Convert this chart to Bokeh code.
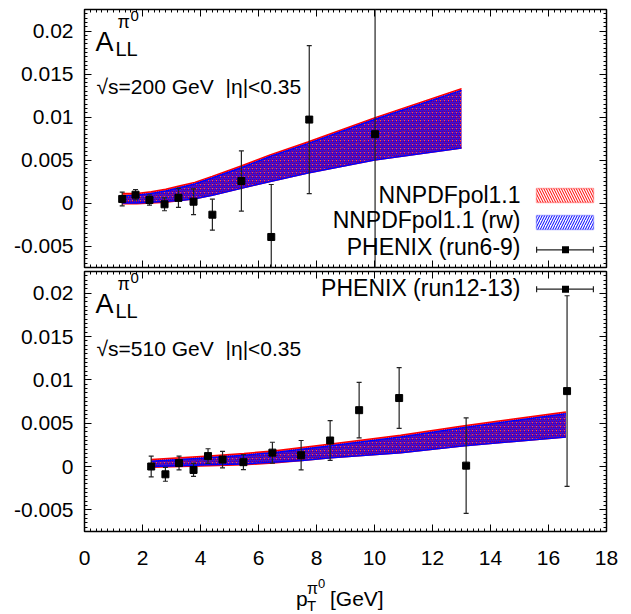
from bokeh.plotting import figure
from bokeh.models import (Range1d, LinearAxis, FixedTicker, CustomJSTickFormatter,
                          Label, BoxAnnotation, Div)
from bokeh.layouts import column
from bokeh.embed import file_html
from bokeh.resources import INLINE

FONT = "Liberation Sans"

# ---------------- data: top panel (sqrt(s)=200 GeV, PHENIX run6-9) ----------------
top_x = [1.30, 1.76, 2.24, 2.76, 3.24, 3.76, 4.41, 5.41, 6.44, 7.75, 10.02]
top_y = [0.00047, 0.00097, 0.00035, -0.00015, 0.0006, 0.00015, -0.00136, 0.00256, -0.00395, 0.0097, 0.0080]
top_err = [0.0008, 0.0006, 0.0006, 0.00075, 0.0011, 0.0015, 0.0018, 0.0035, 0.0061, 0.0086, 0.035]

top_band_x = [1.3, 1.8, 2.3, 2.8, 3.3, 3.8, 4.4, 5.4, 6.4, 7.7, 10.0, 13.0]
top_nn_up = [0.0011, 0.0011, 0.0013, 0.0016, 0.0020, 0.0024, 0.0031, 0.0043, 0.0056, 0.0071, 0.0099, 0.0133]
top_nn_lo = [-0.0001, -0.0001, 0.0000, 0.0001, 0.0003, 0.0005, 0.0009, 0.0017, 0.0025, 0.0035, 0.0050, 0.0064]
top_rw_up = [0.0008, 0.0009, 0.0011, 0.0014, 0.0018, 0.0022, 0.0029, 0.0041, 0.0054, 0.0069, 0.0097, 0.0131]
top_rw_lo = [0.0000, 0.0000, 0.0001, 0.0002, 0.0003, 0.0005, 0.0009, 0.0017, 0.0025, 0.0035, 0.0050, 0.0064]
top_mid = [0.0005, 0.0005, 0.00065, 0.00085, 0.00115, 0.00145, 0.0020, 0.0030, 0.0040, 0.0053, 0.0075, 0.0099]

# ---------------- data: bottom panel (sqrt(s)=510 GeV, PHENIX run12-13) ----------------
bot_x = [2.30, 2.79, 3.26, 3.76, 4.26, 4.76, 5.48, 6.48, 7.47, 8.47, 9.47, 10.85, 13.16, 16.64]
bot_y = [0.0000, -0.0009, 0.0004, -0.0004, 0.0012, 0.0008, 0.0005, 0.0016, 0.0013, 0.0030, 0.0065, 0.0079, 0.0001, 0.0087]
bot_err = [0.0012, 0.0008, 0.0008, 0.00075, 0.00085, 0.00095, 0.00087, 0.0012, 0.0017, 0.0023, 0.0032, 0.0035, 0.0055, 0.011]

bot_band_x = [2.3, 3.3, 4.3, 5.5, 6.5, 7.5, 8.5, 10.9, 13.1, 16.6]
bot_nn_up = [0.0008, 0.0010, 0.0012, 0.0015, 0.0018, 0.0022, 0.0026, 0.0036, 0.0047, 0.0063]
bot_nn_lo = [-0.0001, 0.0000, 0.0001, 0.0002, 0.0004, 0.0007, 0.0010, 0.0016, 0.0024, 0.0034]
bot_rw_up = [0.0006, 0.0008, 0.0010, 0.0013, 0.0016, 0.0020, 0.0024, 0.0034, 0.0045, 0.0061]
bot_rw_lo = [0.0000, 0.0001, 0.0002, 0.0003, 0.0005, 0.0007, 0.0010, 0.0016, 0.0024, 0.0034]
bot_mid = [0.00035, 0.0005, 0.00065, 0.00085, 0.0011, 0.00145, 0.0018, 0.0026, 0.0035, 0.0048]

x_tick_labels = [0, 2, 4, 6, 8, 10, 12, 14, 16, 18]
y_tick_labels = [-0.005, 0, 0.005, 0.01, 0.015, 0.02]

legend_labels = ["NNPDFpol1.1", "NNPDFpol1.1 (rw)", "PHENIX (run6-9)", "PHENIX (run12-13)"]
energy_labels = ["\u221As=200 GeV", "\u221As=510 GeV"]
eta_label = "|\u03b7|<0.35"

# tick positions (layout only)
X_MAJ = list(x_tick_labels)
X_MIN = [round(i * 0.2, 4) for i in range(91) if i % 10 != 0]
Y_MAJ = list(y_tick_labels)
Y_MIN = [round(-0.0075 + i * 0.0005, 6) for i in range(61) if (i - 5) % 10 != 0]

TXT_DY = 9  # baseline correction for screen-unit labels


def base_axis(ax):
    ax.major_tick_out = 0
    ax.minor_tick_out = 0
    ax.major_tick_line_color = "black"
    ax.minor_tick_line_color = "black"
    ax.axis_line_color = None
    ax.major_label_standoff = 0


def labelled_axis(dim):
    ax = LinearAxis()
    base_axis(ax)
    if dim == "x":
        ax.ticker = FixedTicker(ticks=X_MAJ, minor_ticks=X_MIN)
        ax.major_label_standoff = 19
    else:
        ax.ticker = FixedTicker(ticks=Y_MAJ, minor_ticks=Y_MIN)
        ax.formatter = CustomJSTickFormatter(code="return String(Math.round(tick*1e6)/1e6);")
        ax.major_label_standoff = 11
    ax.major_tick_in = 7
    ax.minor_tick_in = 3
    ax.major_label_text_font = FONT
    ax.major_label_text_font_size = "21px"
    ax.major_label_text_color = "black"
    return ax


def mirror_axes(dim):
    # tick marks only, no labels: majors drawn as long "minor" ticks
    maj = X_MAJ if dim == "x" else Y_MAJ
    mnr = X_MIN if dim == "x" else Y_MIN
    a1 = LinearAxis()
    base_axis(a1)
    a1.ticker = FixedTicker(ticks=[], minor_ticks=maj)
    a1.minor_tick_in = 7
    a2 = LinearAxis()
    base_axis(a2)
    a2.ticker = FixedTicker(ticks=[], minor_ticks=mnr)
    a2.minor_tick_in = 3
    return [a1, a2]


def make_fig(height, mb_top, mb_bottom, show_xlabels):
    p = figure(width=625, height=height, output_backend="svg", toolbar_location=None,
               x_range=Range1d(0, 18), y_range=Range1d(-0.0075, 0.0225),
               x_axis_location=None, y_axis_location=None,
               min_border_left=84, min_border_right=19, min_border_top=mb_top,
               min_border_bottom=mb_bottom)
    p.grid.visible = False
    p.outline_line_color = "black"
    p.outline_line_width = 1.5
    p.background_fill_color = "white"
    p.border_fill_color = "white"
    p.add_layout(labelled_axis("y"), "left")
    for a in mirror_axes("y"):
        p.add_layout(a, "right")
    for a in mirror_axes("x"):
        p.add_layout(a, "above")
    if show_xlabels:
        p.add_layout(labelled_axis("x"), "below")
    else:
        for a in mirror_axes("x"):
            p.add_layout(a, "below")
    return p


def draw_bands(p, bx, nn_up, nn_lo, rw_up, rw_lo, mid):
    p.varea(x=bx, y1=nn_lo, y2=nn_up, fill_alpha=0, hatch_pattern="\\", hatch_color="red",
            hatch_scale=4, hatch_weight=1.3)
    p.varea(x=bx, y1=rw_lo, y2=rw_up, fill_alpha=0, hatch_pattern="/", hatch_color="blue",
            hatch_scale=4, hatch_weight=1.3)
    p.line(bx, mid, line_color="#a0206a", line_width=1, line_dash="4 4", line_alpha=0.6)
    p.line(bx, nn_up, line_color="red", line_width=1.5)
    p.line(bx, nn_lo, line_color="red", line_width=1.5)
    p.line(bx, rw_up, line_color="blue", line_width=1.5)
    p.line(bx, rw_lo, line_color="blue", line_width=1.5)


def draw_points(p, x, y, err):
    lo = [a - e for a, e in zip(y, err)]
    hi = [a + e for a, e in zip(y, err)]
    p.segment(x0=x, y0=lo, x1=x, y1=hi, line_color="#222222", line_width=1.2)
    p.scatter(x, lo, marker="dash", size=5, line_color="#222222", line_width=1.2)
    p.scatter(x, hi, marker="dash", size=5, line_color="#222222", line_width=1.2)
    p.scatter(x, y, marker="square", size=7, fill_color="black", line_color="black")


def add_text(p, x, y, text, size, align="left"):
    p.add_layout(Label(x=x, y=y + TXT_DY, x_units="screen", y_units="screen", text=text,
                       text_font=FONT, text_font_size=size, text_color="black",
                       text_baseline="alphabetic", text_align=align))


def box(p, l, r, b, t, **kw):
    args = dict(left=l, right=r, bottom=b, top=t,
                left_units="screen", right_units="screen",
                bottom_units="screen", top_units="screen")
    args.update(kw)
    p.add_layout(BoxAnnotation(**args))


def point_legend(p, yc):
    box(p, 452, 509, yc - 0.6, yc + 0.6, fill_color="#222222", fill_alpha=1, line_color=None)
    box(p, 451.5, 452.7, yc - 3, yc + 3, fill_color="#222222", fill_alpha=1, line_color=None)
    box(p, 508.3, 509.5, yc - 3, yc + 3, fill_color="#222222", fill_alpha=1, line_color=None)
    box(p, 477.5, 484.5, yc - 3.5, yc + 3.5, fill_color="black", fill_alpha=1, line_color=None)


def all_label(p, H, energy):
    add_text(p, 11, H - 41, "A", "27px")
    add_text(p, 31, H - 48, "LL", "20px")
    add_text(p, 33, H - 21, "\u03c0", "18px")
    add_text(p, 46, H - 15, "0", "15px")
    add_text(p, 12, H - 86, energy, "21px")
    add_text(p, 141, H - 86, eta_label, "21px")


# ---------------- top panel ----------------
TOP_H = 258
p1 = make_fig(270, 9, 3, False)
draw_bands(p1, top_band_x, top_nn_up, top_nn_lo, top_rw_up, top_rw_lo, top_mid)
draw_points(p1, top_x, top_y, top_err)
all_label(p1, TOP_H, energy_labels[0])
add_text(p1, 436, TOP_H - 194, legend_labels[0], "23px", "right")
add_text(p1, 436, TOP_H - 219, legend_labels[1], "23px", "right")
add_text(p1, 436, TOP_H - 246, legend_labels[2], "23px", "right")
box(p1, 452, 509, 65, 79, fill_alpha=0, line_color="red", line_width=1.5,
    hatch_pattern="\\", hatch_color="red", hatch_scale=5, hatch_weight=1)
box(p1, 452, 509, 38, 52, fill_alpha=0, line_color="blue", line_width=1.5,
    hatch_pattern="/", hatch_color="blue", hatch_scale=5, hatch_weight=1)
point_legend(p1, 17.7)

# ---------------- bottom panel ----------------
BOT_H = 260
p2 = make_fig(306, 1, 45, True)
draw_bands(p2, bot_band_x, bot_nn_up, bot_nn_lo, bot_rw_up, bot_rw_lo, bot_mid)
draw_points(p2, bot_x, bot_y, bot_err)
all_label(p2, BOT_H, energy_labels[1])
add_text(p2, 436, BOT_H - 25, legend_labels[3], "23px", "right")
point_legend(p2, BOT_H - 17.7)

# ---------------- x-axis title p_T^{pi0} [GeV] ----------------
def span(txt, left, top, size):
    return ('<span style="position:absolute; left:%dpx; top:%.1fpx; font-size:%dpx; '
            'line-height:%dpx; white-space:nowrap;">%s</span>' % (left, top, size, size, txt))

title_html = (
    '<div style="position:relative; width:625px; height:38px; font-family:\'Liberation Sans\'; '
    'color:black; margin:0; padding:0;">'
    + span("p", 296, 12.2, 21)
    + span("T", 307, 22.3, 15)
    + span("\u03c0", 307, 4.5, 16)
    + span("0", 318, 1.0, 13)
    + span("[GeV]", 330, 12.2, 21)
    + '</div>'
)
xtitle = Div(text=title_html, width=625, height=38, margin=(0, 0, 0, 0))

layout = column(p1, p2, xtitle)
open("out.html", "w").write(file_html(layout, INLINE))
